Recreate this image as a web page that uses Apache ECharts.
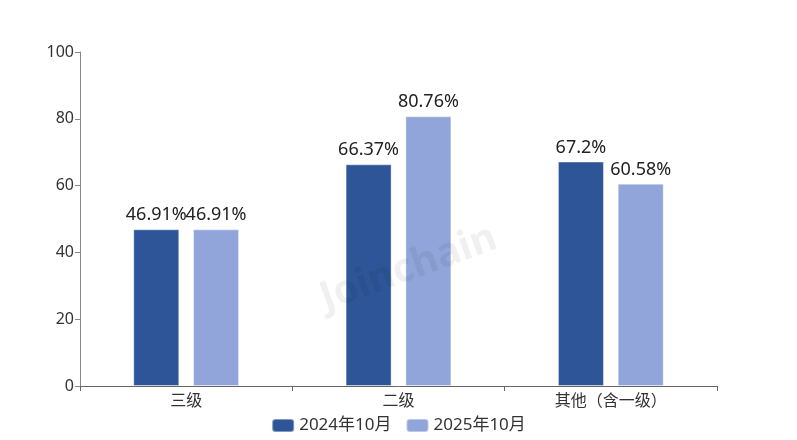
<!DOCTYPE html>
<html><head><meta charset="utf-8">
<script src="https://cdn.jsdelivr.net/npm/echarts@6/dist/echarts.min.js"></script>
<style>html,body{margin:0;padding:0;background:#fff}#c{width:797px;height:440px}</style>
</head><body><div id="c"></div>
<script>
var categories = ['三级', '二级', '其他（含一级）'];
var seriesNames = ['2024年10月', '2025年10月'];
var values2024 = [46.91, 66.37, 67.2];
var values2025 = [46.91, 80.76, 60.58];
var yTicks = [0, 20, 40, 60, 80, 100];

var chart = echarts.init(document.getElementById('c'));
var font = '"Noto Sans", "Noto Sans CJK SC", sans-serif';
function lbl() {
  return {show: true, position: 'top', distance: 5, color: '#222', fontSize: 18, fontFamily: font,
    formatter: function(p){ return p.value + '%'; }};
}
chart.setOption({
  animation: false,
  color: ['#2d5597', '#91a5da'],
  graphic: [{type: 'text', left: 315, top: 218, rotation: 0.35, z: 100,
    style: {text: 'Joinchain', fill: 'rgba(0,0,0,0.06)', font: 'bold 40px "Noto Sans", sans-serif'}}],
  legend: {bottom: 1, left: 'center', itemWidth: 22, itemHeight: 13, itemGap: 14, icon: 'roundRect',
    textStyle: {fontSize: 17, color: '#333', fontFamily: font}, data: seriesNames},
  grid: {left: 80, right: 80, top: 52, bottom: 54},
  xAxis: {type: 'category', data: categories,
    axisLine: {lineStyle: {color: '#666'}}, axisTick: {show: true, length: 5, lineStyle: {color: '#666'}},
    axisLabel: {fontSize: 16, color: '#333', fontFamily: font, margin: 7}},
  yAxis: {type: 'value', min: yTicks[0], max: yTicks[yTicks.length-1], interval: 20,
    splitLine: {show: false},
    axisLine: {show: true, lineStyle: {color: '#888'}}, axisTick: {show: true, length: 5, lineStyle: {color: '#888'}},
    axisLabel: {fontSize: 16, color: '#333', fontFamily: font, margin: 6}},
  series: [
    {name: seriesNames[0], type: 'bar', data: values2024, barWidth: 46, barGap: '30%', label: lbl(),
     itemStyle: {borderColor: 'rgba(255,255,255,0.4)', borderWidth: 1}},
    {name: seriesNames[1], type: 'bar', data: values2025, barWidth: 46, label: lbl(),
     itemStyle: {borderColor: 'rgba(255,255,255,0.4)', borderWidth: 1}}
  ]
});
</script></body></html>
